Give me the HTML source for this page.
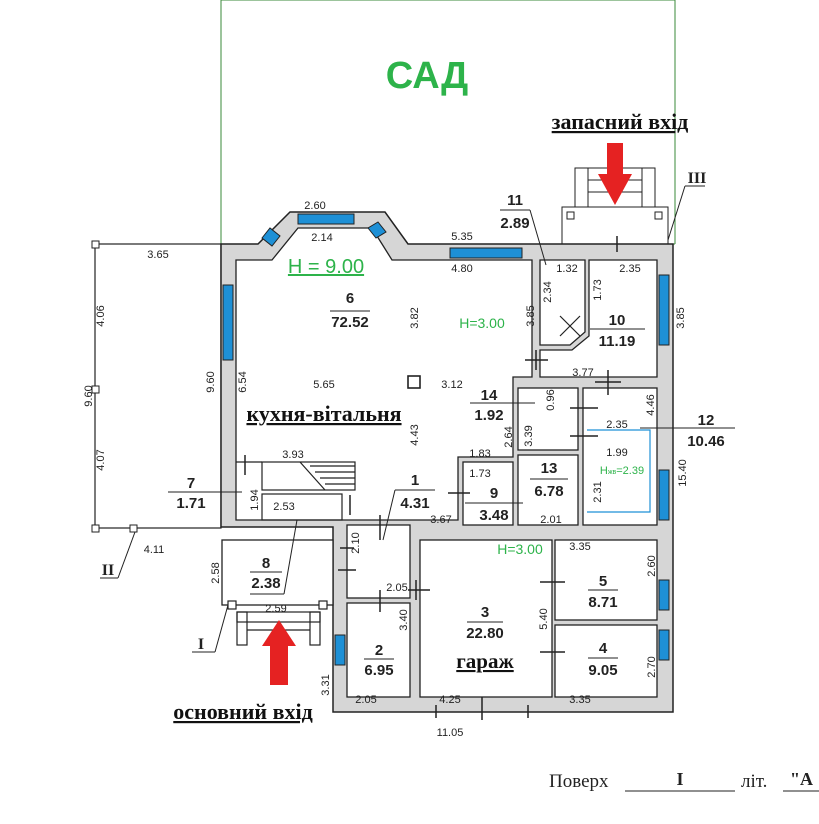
<!DOCTYPE html>
<html><head><meta charset="utf-8"><style>
body{margin:0;background:#fff}
svg text{font-family:"Liberation Sans",sans-serif;fill:#222}
.n{font-size:11px;fill:#444}
.b{font-size:15px;font-weight:bold;fill:#111}
.s{font-family:"Liberation Serif",serif;font-weight:bold;font-size:18px;text-decoration:underline;fill:#111}
.g{fill:#2db34a}
</style></head><body>
<svg width="819" height="819" viewBox="0 0 819 819" xmlns="http://www.w3.org/2000/svg">
<polyline points="221,244 221,0 675,0 675,244" fill="none" stroke="#3a8a3a" stroke-width="1"/>
<text x="427" y="88" text-anchor="middle" style="font-size:38px;font-weight:bold" class="g">САД</text>
<rect x="95" y="244" width="126" height="284" fill="none" stroke="#222" stroke-width="1.2"/>
<rect x="92" y="241" width="7" height="7" fill="#fff" stroke="#222"/><rect x="92" y="386" width="7" height="7" fill="#fff" stroke="#222"/><rect x="92" y="525" width="7" height="7" fill="#fff" stroke="#222"/><rect x="130" y="525" width="7" height="7" fill="#fff" stroke="#222"/>
<rect x="562" y="207" width="106" height="37" fill="#fff" stroke="#222"/>
<rect x="575" y="168" width="80" height="39" fill="none" stroke="#222"/>
<line x1="588" y1="168" x2="588" y2="207" stroke="#222"/><line x1="642" y1="168" x2="642" y2="207" stroke="#222"/>
<line x1="588" y1="180" x2="642" y2="180" stroke="#222"/><line x1="588" y1="192" x2="642" y2="192" stroke="#222"/>
<rect x="567" y="212" width="7" height="7" fill="none" stroke="#222"/><rect x="655" y="212" width="7" height="7" fill="none" stroke="#222"/>
<line x1="221" y1="244" x2="675" y2="244" stroke="#3a8a3a"/>
<polygon points="221,244 258,244 290,212 385,212 408,244 673,244 673,712 333,712 333,527 221,527" fill="#d6d6d6" stroke="#222" stroke-width="1.5"/>
<g fill="#fff" stroke="#222" stroke-width="1.3">
<polygon points="236,260 272,260 298,228 372,228 392,260 532,260 532,377 513,377 513,457 458,457 458,520 236,520"/>
<polygon points="540,260 585,260 585,332 570,345 540,345"/>
<polygon points="589,260 657,260 657,377 540,377 540,350 572,350 589,336"/>
<rect x="518" y="388" width="60" height="62"/>
<rect x="583" y="388" width="74" height="137"/>
<rect x="518" y="455" width="60" height="70"/>
<rect x="463" y="462" width="50" height="63"/>
<rect x="347" y="525" width="63" height="73"/>
<rect x="347" y="603" width="63" height="94"/>
<rect x="420" y="540" width="132" height="157"/>
<rect x="555" y="540" width="102" height="80"/>
<rect x="555" y="625" width="102" height="72"/>
<rect x="222" y="540" width="111" height="65"/>
</g>
<g fill="none" stroke="#222" stroke-width="1.2">
<rect x="262" y="462" width="93" height="28"/><rect x="262" y="494" width="80" height="26"/>
<line x1="300" y1="462" x2="325" y2="490"/>
<line x1="310" y1="466" x2="355" y2="466"/><line x1="315" y1="472" x2="355" y2="472"/><line x1="320" y1="478" x2="355" y2="478"/><line x1="325" y1="484" x2="355" y2="484"/>
<line x1="236" y1="462" x2="262" y2="462"/>
<polyline points="587,430 650,430 650,512 587,512" stroke="#1e90d6"/>
<line x1="560" y1="316" x2="580" y2="336"/><line x1="560" y1="336" x2="580" y2="316"/>
<rect x="408" y="376" width="12" height="12" stroke-width="1.6"/>
<rect x="237" y="612" width="83" height="10"/><rect x="237" y="612" width="10" height="33"/><rect x="310" y="612" width="10" height="33"/><line x1="247" y1="630" x2="310" y2="630"/>
<rect x="228" y="601" width="8" height="8" fill="#fff"/><rect x="319" y="601" width="8" height="8" fill="#fff"/>
</g>
<!-- door ticks -->
<g stroke="#222" stroke-width="1.5">
<line x1="525" y1="360" x2="548" y2="360"/><line x1="536" y1="350" x2="536" y2="370"/>
<line x1="608" y1="370" x2="608" y2="395"/><line x1="595" y1="382" x2="621" y2="382"/>
<line x1="570" y1="408" x2="598" y2="408"/><line x1="570" y1="436" x2="598" y2="436"/>
<line x1="448" y1="493" x2="470" y2="493"/><line x1="380" y1="515" x2="380" y2="540"/>
<line x1="408" y1="590" x2="430" y2="590"/><line x1="416" y1="580" x2="416" y2="600"/>
<line x1="380" y1="590" x2="380" y2="612"/><line x1="340" y1="548" x2="354" y2="548"/><line x1="338" y1="570" x2="356" y2="570"/>
<line x1="540" y1="582" x2="565" y2="582"/><line x1="540" y1="652" x2="565" y2="652"/>
<line x1="482" y1="697" x2="482" y2="720"/><line x1="436" y1="705" x2="436" y2="718"/><line x1="528" y1="705" x2="528" y2="718"/>
<line x1="617" y1="236" x2="617" y2="252"/><line x1="245" y1="455" x2="245" y2="475"/><line x1="350" y1="495" x2="350" y2="515"/>
</g>
<g fill="#1e90d6" stroke="#222">
<rect x="450" y="248" width="72" height="10"/><rect x="298" y="214" width="56" height="10"/>
<rect x="223" y="285" width="10" height="75"/><rect x="659" y="275" width="10" height="70"/>
<rect x="659" y="470" width="10" height="50"/><rect x="659" y="580" width="10" height="30"/><rect x="659" y="630" width="10" height="30"/><rect x="335" y="635" width="10" height="30"/>
<polygon points="262,238 270,228 280,236 272,246"/><polygon points="368,228 376,238 386,232 378,222"/>
</g>
<g fill="#e52222"><rect x="270" y="645" width="18" height="40"/><polygon points="279,620 262,646 296,646"/>
<rect x="607" y="143" width="16" height="32"/><polygon points="598,174 632,174 615,205"/></g>
<g stroke="#222" fill="none"><line x1="192" y1="652" x2="215" y2="652"/><line x1="215" y1="652" x2="228" y2="605"/>
<line x1="100" y1="578" x2="118" y2="578"/><line x1="118" y1="578" x2="135" y2="532"/>
<line x1="685" y1="186" x2="705" y2="186"/><line x1="685" y1="186" x2="668" y2="240"/>
<line x1="500" y1="210" x2="530" y2="210"/><line x1="530" y1="210" x2="546" y2="265"/>
<line x1="395" y1="490" x2="435" y2="490"/><line x1="395" y1="490" x2="383" y2="540"/>
<line x1="250" y1="594" x2="284" y2="594"/><line x1="284" y1="594" x2="297" y2="520"/>
<line x1="168" y1="492" x2="242" y2="492"/><line x1="678" y1="428" x2="735" y2="428"/><line x1="640" y1="428" x2="678" y2="428"/>
<line x1="470" y1="403" x2="535" y2="403"/><line x1="590" y1="329" x2="645" y2="329"/>
<line x1="330" y1="311" x2="370" y2="311"/><line x1="465" y1="503" x2="523" y2="503"/><line x1="530" y1="479" x2="568" y2="479"/>
<line x1="588" y1="590" x2="618" y2="590"/><line x1="588" y1="658" x2="618" y2="658"/><line x1="467" y1="622" x2="503" y2="622"/><line x1="364" y1="659" x2="394" y2="659"/><line x1="250" y1="572" x2="282" y2="572"/>
</g>
<text x="620" y="129" text-anchor="middle" class="s" style="font-size:22px">запасний вхід</text>
<text x="697" y="183" text-anchor="middle" style="font-family:'Liberation Serif',serif;font-weight:bold;font-size:16px">III</text>
<text x="108" y="575" text-anchor="middle" style="font-family:'Liberation Serif',serif;font-weight:bold;font-size:16px">II</text>
<text x="201" y="649" text-anchor="middle" style="font-family:'Liberation Serif',serif;font-weight:bold;font-size:16px">I</text>
<text x="243" y="719" text-anchor="middle" class="s" style="font-size:22px">основний вхід</text>
<text x="324" y="421" text-anchor="middle" class="s" style="font-size:22px">кухня-вітальня</text>
<text x="485" y="668" text-anchor="middle" class="s" style="font-size:21px">гараж</text>
<text x="326" y="273" text-anchor="middle" class="g" style="font-size:20px;text-decoration:underline">H = 9.00</text>
<text x="482" y="328" text-anchor="middle" class="g" style="font-size:14px">H=3.00</text>
<text x="520" y="554" text-anchor="middle" class="g" style="font-size:14px">H=3.00</text>
<text x="622" y="474" text-anchor="middle" class="g" style="font-size:11px">H<tspan font-size="7">жв</tspan>=2.39</text>
<g class="b" text-anchor="middle">
<text x="515" y="205">11</text><text x="515" y="228">2.89</text>
<text x="350" y="303">6</text><text x="350" y="327">72.52</text>
<text x="617" y="325">10</text><text x="617" y="346">11.19</text>
<text x="489" y="400">14</text><text x="489" y="420">1.92</text>
<text x="706" y="425">12</text><text x="706" y="446">10.46</text>
<text x="549" y="473">13</text><text x="549" y="496">6.78</text>
<text x="494" y="498">9</text><text x="494" y="520">3.48</text>
<text x="415" y="485">1</text><text x="415" y="508">4.31</text>
<text x="191" y="488">7</text><text x="191" y="508">1.71</text>
<text x="266" y="568">8</text><text x="266" y="588">2.38</text>
<text x="603" y="586">5</text><text x="603" y="607">8.71</text>
<text x="485" y="617">3</text><text x="485" y="638">22.80</text>
<text x="379" y="655">2</text><text x="379" y="675">6.95</text>
<text x="603" y="653">4</text><text x="603" y="675">9.05</text>
</g>
<g class="n" text-anchor="middle">
<text x="315" y="209">2.60</text><text x="322" y="241">2.14</text><text x="462" y="240">5.35</text><text x="462" y="272">4.80</text>
<text x="567" y="272">1.32</text><text x="630" y="272">2.35</text><text x="158" y="258">3.65</text>
<text x="324" y="388">5.65</text><text x="452" y="388">3.12</text><text x="583" y="376">3.77</text><text x="617" y="428">2.35</text>
<text x="480" y="457">1.83</text><text x="480" y="477">1.73</text><text x="617" y="456">1.99</text><text x="551" y="523">2.01</text>
<text x="441" y="523">3.67</text><text x="293" y="458">3.93</text><text x="284" y="510">2.53</text><text x="397" y="591">2.05</text>
<text x="276" y="612">2.59</text><text x="154" y="553">4.11</text><text x="580" y="550">3.35</text>
<text x="366" y="703">2.05</text><text x="450" y="703">4.25</text><text x="580" y="703">3.35</text><text x="450" y="736">11.05</text>
</g>
<g class="n" text-anchor="middle">
<text transform="translate(418,318) rotate(-90)">3.82</text><text transform="translate(534,316) rotate(-90)">3.85</text>
<text transform="translate(551,292) rotate(-90)">2.34</text><text transform="translate(601,290) rotate(-90)">1.73</text>
<text transform="translate(684,318) rotate(-90)">3.85</text><text transform="translate(104,316) rotate(-90)">4.06</text>
<text transform="translate(92,396) rotate(-90)">9.60</text><text transform="translate(104,460) rotate(-90)">4.07</text>
<text transform="translate(214,382) rotate(-90)">9.60</text><text transform="translate(246,382) rotate(-90)">6.54</text>
<text transform="translate(554,400) rotate(-90)">0.96</text><text transform="translate(654,405) rotate(-90)">4.46</text>
<text transform="translate(686,473) rotate(-90)">15.40</text><text transform="translate(418,435) rotate(-90)">4.43</text>
<text transform="translate(512,437) rotate(-90)">2.64</text><text transform="translate(532,436) rotate(-90)">3.39</text>
<text transform="translate(601,492) rotate(-90)">2.31</text><text transform="translate(258,500) rotate(-90)">1.94</text>
<text transform="translate(359,543) rotate(-90)">2.10</text><text transform="translate(219,573) rotate(-90)">2.58</text>
<text transform="translate(655,566) rotate(-90)">2.60</text><text transform="translate(547,619) rotate(-90)">5.40</text>
<text transform="translate(407,620) rotate(-90)">3.40</text><text transform="translate(655,667) rotate(-90)">2.70</text>
<text transform="translate(329,685) rotate(-90)">3.31</text>
</g>
<text x="549" y="787" style="font-family:'Liberation Serif',serif;font-size:19px">Поверх</text>
<line x1="625" y1="791" x2="735" y2="791" stroke="#222"/>
<text x="680" y="785" text-anchor="middle" style="font-family:'Liberation Serif',serif;font-weight:bold;font-size:18px">I</text>
<text x="741" y="787" style="font-family:'Liberation Serif',serif;font-size:19px">літ.</text>
<line x1="783" y1="791" x2="819" y2="791" stroke="#222"/>
<text x="790" y="785" style="font-family:'Liberation Serif',serif;font-weight:bold;font-size:18px">"А</text>
</svg>
</body></html>
